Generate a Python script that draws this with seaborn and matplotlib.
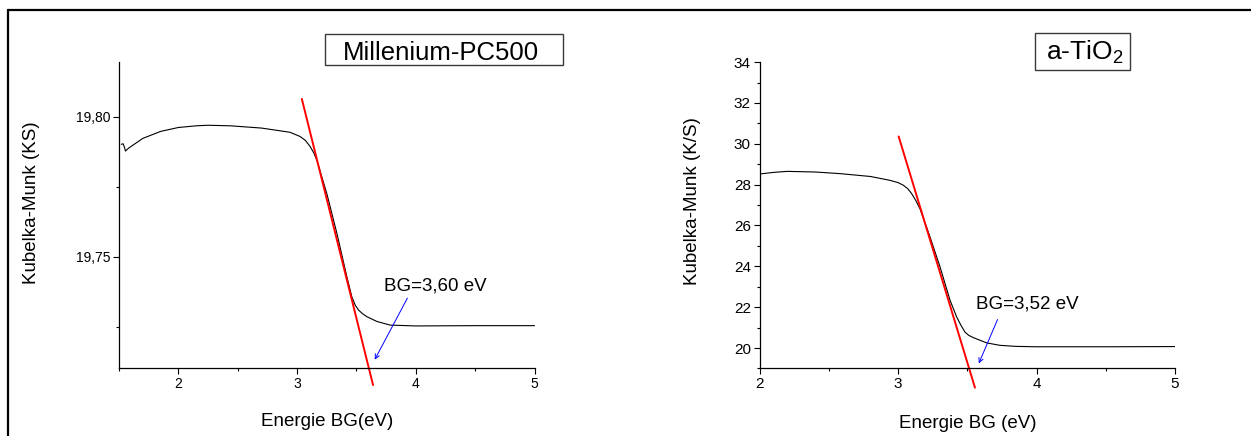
import matplotlib
matplotlib.use("Agg")
import matplotlib.pyplot as plt
from matplotlib.lines import Line2D
from matplotlib.patches import Rectangle
from matplotlib.ticker import MultipleLocator, FuncFormatter
import seaborn as sns
import pandas as pd

# Millenium-PC500 spectrum (Kubelka-Munk vs energy)
pc500_energy = [1.52, 1.535, 1.545, 1.555, 1.58, 1.7, 1.85, 2.0, 2.15, 2.25, 2.44,
                2.7, 2.94, 3.025, 3.07, 3.11, 3.14, 3.166, 3.25, 3.335, 3.419, 3.461,
                3.49, 3.517, 3.55, 3.588, 3.672, 3.784, 4.0, 4.5, 5.0]
pc500_ks = [19.7902, 19.7904, 19.7893, 19.7878, 19.7888, 19.7923, 19.7948, 19.7962,
            19.7968, 19.7970, 19.7968, 19.7960, 19.7945, 19.7930, 19.7916, 19.7894,
            19.7872, 19.7846, 19.7727, 19.7585, 19.7430, 19.7358, 19.7328, 19.7311,
            19.7298, 19.7287, 19.7270, 19.7257, 19.7254, 19.7255, 19.7255]
pc500_fit_x = [3.04, 3.64]
pc500_fit_y = [19.8064, 19.7043]

# a-TiO2 spectrum
atio2_energy = [2.0, 2.1, 2.2, 2.4, 2.58, 2.8, 2.942, 3.0, 3.038, 3.07, 3.098, 3.128,
                3.158, 3.231, 3.303, 3.375, 3.423, 3.455, 3.483, 3.51, 3.543, 3.64,
                3.736, 3.85, 4.0, 4.5, 5.0]
atio2_ks = [28.52, 28.60, 28.65, 28.62, 28.54, 28.40, 28.21, 28.10, 27.97, 27.80,
            27.56, 27.22, 26.82, 25.43, 23.97, 22.34, 21.52, 21.10, 20.78, 20.62,
            20.51, 20.25, 20.13, 20.08, 20.06, 20.06, 20.07]
atio2_fit_x = [3.004, 3.555]
atio2_fit_y = [30.36, 18.06]

sns.set_theme(style="ticks")
plt.rcParams["font.family"] = ["Liberation Sans", "DejaVu Sans"]
plt.rcParams["text.color"] = "black"
plt.rcParams["axes.labelcolor"] = "black"


def style_axes(ax, tick_size):
    sns.despine(ax=ax)
    for s in ("left", "bottom"):
        ax.spines[s].set_linewidth(0.9)
        ax.spines[s].set_color("black")
    ax.tick_params(which="major", direction="out", length=4.3, width=0.8,
                   labelsize=tick_size, pad=2, colors="black")
    ax.tick_params(which="minor", direction="out", length=2.5, width=0.8,
                   colors="black")


def title_box(fig, x0, y0, x1, y1, text, tx, ty, size):
    W, H = 1251, 436
    fig.add_artist(Rectangle((x0 / W, 1 - y1 / H), (x1 - x0) / W, (y1 - y0) / H,
                             transform=fig.transFigure, fc="white",
                             ec="#3a3a3a", lw=1.0))
    fig.text(tx / W, 1 - ty / H, text, fontsize=size, ha="center", va="baseline",
             color="black")


fig = plt.figure(figsize=(12.51, 4.36), dpi=100)

# ---- left panel
ax1 = fig.add_axes([0.0951, 0.156, 0.3322, 0.702])
sns.lineplot(data=pd.DataFrame({"E": pc500_energy, "KS": pc500_ks}), x="E", y="KS",
             ax=ax1, color="black", lw=0.8, sort=False)
sns.lineplot(x=pc500_fit_x, y=pc500_fit_y, ax=ax1, color="red", lw=1.4, clip_on=False)
ax1.set_xlim(1.5, 5)
ax1.set_ylim(19.7104, 19.8196)
ax1.xaxis.set_major_locator(MultipleLocator(1))
ax1.xaxis.set_minor_locator(MultipleLocator(0.5))
ax1.yaxis.set_major_locator(MultipleLocator(0.05))
ax1.yaxis.set_minor_locator(MultipleLocator(0.025))
ax1.yaxis.set_major_formatter(FuncFormatter(lambda v, p: f"{v:.2f}".replace(".", ",")))
style_axes(ax1, 10)
ax1.set_xlabel("Energie BG(eV)", fontsize=13.5)
ax1.set_ylabel("Kubelka-Munk (KS)", fontsize=13.5)
ax1.xaxis.set_label_coords(0.5, -0.147)
ax1.yaxis.set_label_coords(-0.189, 0.54)
ax1.text(3.73, 19.7396, "BG=3,60 eV", fontsize=13.5, va="center", ha="left")
ax1.annotate("", xy=(3.643, 19.7125), xytext=(3.94, 19.7362),
             arrowprops=dict(arrowstyle="->", color="blue", lw=0.7, mutation_scale=8))
title_box(fig, 325, 34, 563, 65, "Millenium-PC500", 441, 59.5, 18.5)

# ---- right panel
ax2 = fig.add_axes([0.6072, 0.155, 0.3321, 0.7025])
sns.lineplot(data=pd.DataFrame({"E": atio2_energy, "KS": atio2_ks}), x="E", y="KS",
             ax=ax2, color="black", lw=0.8, sort=False)
sns.lineplot(x=atio2_fit_x, y=atio2_fit_y, ax=ax2, color="red", lw=1.4, clip_on=False)
ax2.set_xlim(2, 5)
ax2.set_ylim(19, 34)
ax2.xaxis.set_major_locator(MultipleLocator(1))
ax2.xaxis.set_minor_locator(MultipleLocator(0.5))
ax2.yaxis.set_major_locator(MultipleLocator(2))
ax2.yaxis.set_minor_locator(MultipleLocator(1))
style_axes(ax2, 11)
ax2.set_xlabel("Energie BG (eV)", fontsize=13.5)
ax2.set_ylabel("Kubelka-Munk (K/S)", fontsize=13.5)
ax2.xaxis.set_label_coords(0.502, -0.152)
ax2.yaxis.set_label_coords(-0.14, 0.546)
ax2.text(3.56, 22.14, "BG=3,52 eV", fontsize=13.5, va="center", ha="left")
ax2.annotate("", xy=(3.575, 19.12), xytext=(3.726, 21.52),
             arrowprops=dict(arrowstyle="->", color="blue", lw=0.7, mutation_scale=8))
title_box(fig, 1035, 33, 1130, 70, r"a-TiO$_\mathregular{2}$", 1085, 59.3, 19)

# outer frame (top and left edges visible)
fig.add_artist(Line2D([0.0066, 1.0], [0.977, 0.977], transform=fig.transFigure,
                      color="black", lw=1.6))
fig.add_artist(Line2D([0.0066, 0.0066], [0.0, 0.977], transform=fig.transFigure,
                      color="black", lw=1.6))

fig.savefig("out.png", dpi=100)
